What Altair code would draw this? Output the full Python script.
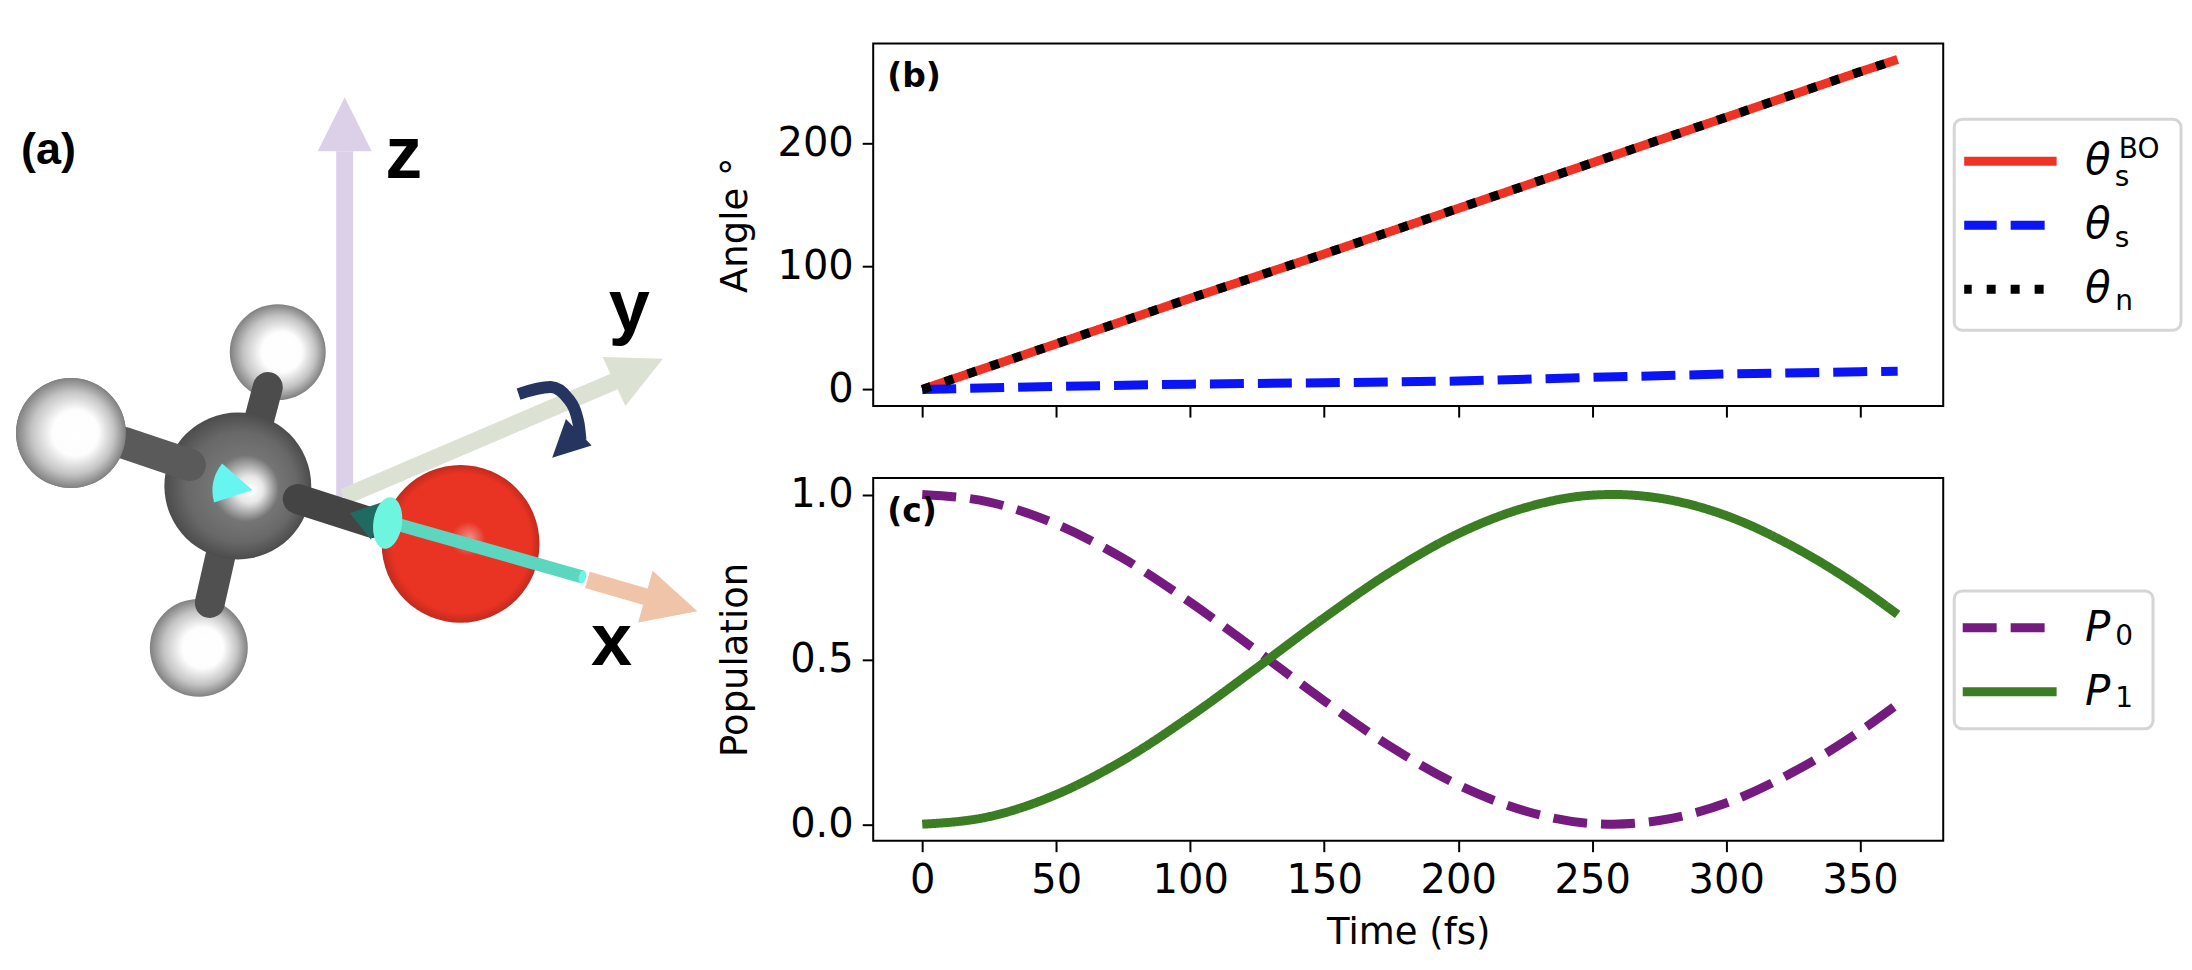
import altair as alt
import pandas as pd

# panel (b)
angle_time = [0, 50, 100, 150, 200, 250, 300, 350, 364]
theta_bo = [0, 37, 74, 110, 147, 184, 221, 258, 268]
theta_s = [0, 2.5, 4.3, 5.4, 6.8, 9.8, 12.5, 14.4, 14.8]
theta_n = [0, 37, 74, 110, 147, 184, 221, 258, 268]

# panel (c)
pop_time = [0, 25, 50, 75, 100, 125, 150, 175, 200, 225, 250, 258, 275, 300, 325, 350, 364]
p0 = [1.0, 0.977, 0.91, 0.806, 0.673, 0.525, 0.374, 0.234, 0.119, 0.04, 0.002, 0.0, 0.011, 0.064, 0.158, 0.282, 0.364]
p1 = [0.0, 0.023, 0.09, 0.194, 0.327, 0.475, 0.626, 0.766, 0.881, 0.96, 0.998, 1.0, 0.989, 0.936, 0.842, 0.718, 0.636]

# molecule sketch for panel (a), in picture pixels
hydrogen_x = [278, 71, 199]
hydrogen_y = [352, 433, 648]
hydrogen_r = [48, 55, 49]
axis_names = ["z", "y", "x"]
axis_label_x = [404, 630, 612]
axis_label_y = [178, 331, 665]
shafts = {
    "z": ([345, 345], [497, 151], "#DCD0E8"),
    "y": ([344, 618], [497, 380], "#DBE2D3"),
    "x": ([588, 650], [580, 598], "#F0C4A8"),
}
heads = {
    "z": (345, 124, 0, "#DCD0E8"),
    "y": (639, 370, 65, "#DBE2D3"),
    "x": (672, 604, 105.6, "#F0C4A8"),
}
bonds = {
    "left": ([125, 190], [443, 465], "#5a5a5a"),
    "top": ([268, 258], [387, 425], "#4c4c4c"),
    "bottom": ([210, 222], [603, 550], "#505050"),
    "oxygen": ([298, 373], [499, 523], "#444444"),
}
curve_x = [519, 551, 569, 579, 581]
curve_y = [394, 387, 399, 423, 440]
rod_x = [386, 583]
rod_y = [521, 577]

# legend subscripts and frames, in picture pixels
sub_b = ["s", "BO", "s", "n"]
sub_b_x = [2123, 2140, 2123, 2125]
sub_b_y = [186, 158, 247, 310]
sub_c = ["0", "1"]
sub_c_x = [2125, 2125]
sub_c_y = [645, 707]
frame_b = [1955, 2182, 119, 330]
frame_c = [1955, 2154, 591, 729]

FONT = "DejaVu Sans"
ARROW = "M0,-1L1,1L-1,1Z"
WIDE_ARROW = "M0,-1L1.4,1L-1.4,1Z"
CONE = "M0,-1L1,0.75Q0,1.25 -1,0.75Z"
ELLIPSE = "M-0.55,0A0.55,1 0 1,1 0.55,0A0.55,1 0 1,1 -0.55,0Z"

PLOT_W = 1071
PLOT_H = 363
LEFT, TOP_B, TOP_C = 873, 43, 478
A_W = 700
A_H = 660
xa = alt.Scale(domain=[8, 8 + A_W], nice=False, zero=False)
ya = alt.Scale(domain=[TOP_B + A_H, TOP_B], nice=False, zero=False)


def a_enc(chart):
    return chart.encode(
        x=alt.X("x:Q", scale=xa, axis=None),
        y=alt.Y("y:Q", scale=ya, axis=None),
    )


def a_line(xs, ys, color, width, cap="butt", **kw):
    d = pd.DataFrame({"x": xs, "y": ys, "o": range(len(xs))})
    return a_enc(alt.Chart(d).mark_line(color=color, strokeWidth=width, strokeCap=cap, clip=False, **kw)).encode(
        order="o:Q"
    )


def a_head(x, y, angle, color, size, shape=ARROW):
    d = pd.DataFrame({"x": [x], "y": [y]})
    return a_enc(
        alt.Chart(d).mark_point(shape=shape, size=size, angle=angle, filled=True, fill=color, opacity=1, strokeWidth=0)
    )


def sphere(xs, ys, rs, stops, cx=0.55, cy=0.45):
    d = pd.DataFrame({"x": xs, "y": ys, "s": [4 * r * r for r in rs]})
    grad = alt.RadialGradient(gradient="radial", stops=stops, x1=cx, y1=cy, r1=0, x2=0.5, y2=0.5, r2=0.5)
    return a_enc(alt.Chart(d).mark_circle(fill=grad, opacity=1)).encode(
        size=alt.Size("s:Q", scale=None, legend=None)
    )


h_stops = [
    alt.GradientStop(offset=0, color="#ffffff"),
    alt.GradientStop(offset=0.42, color="#fdfdfd"),
    alt.GradientStop(offset=0.75, color="#c4c4c4"),
    alt.GradientStop(offset=1, color="#808080"),
]
c_stops = [
    alt.GradientStop(offset=0, color="#ffffff"),
    alt.GradientStop(offset=0.18, color="#e8e8e8"),
    alt.GradientStop(offset=0.45, color="#757575"),
    alt.GradientStop(offset=0.75, color="#686868"),
    alt.GradientStop(offset=1, color="#4c4c4c"),
]
o_stops = [
    alt.GradientStop(offset=0, color="#F28C86"),
    alt.GradientStop(offset=0.22, color="#E93323"),
    alt.GradientStop(offset=0.88, color="#E93323"),
    alt.GradientStop(offset=1, color="#C02B1E"),
]

layers = []
for k in axis_names:
    sx, sy, col = shafts[k]
    layers.append(a_line(sx, sy, col, 17))
    hx, hy, ang, col = heads[k]
    layers.append(a_head(hx, hy, ang, col, 2916))
layers.append(sphere(hydrogen_x, hydrogen_y, hydrogen_r, h_stops, cx=0.57, cy=0.5))
layers.append(a_line(*bonds["top"][:2], bonds["top"][2], 30, cap="round"))
layers.append(a_line(*bonds["bottom"][:2], bonds["bottom"][2], 30, cap="round"))
layers.append(sphere([238], [486], [73.5], c_stops, cx=0.6, cy=0.53))
layers.append(a_line(*bonds["left"][:2], bonds["left"][2], 32, cap="round"))
layers.append(sphere(hydrogen_x[1:2], hydrogen_y[1:2], hydrogen_r[1:2], h_stops, cx=0.57, cy=0.5))
layers.append(sphere([461], [544], [79], o_stops, cx=0.56, cy=0.46))
layers.append(a_line(*bonds["oxygen"][:2], bonds["oxygen"][2], 30, cap="round"))
layers.append(a_head(363.5, 517, 286.5, "#1F6B62", 784, shape=WIDE_ARROW))
layers.append(a_head(233, 486, 101.6, "#66F5F0", 1600, shape=CONE))
layers.append(a_line(rod_x, rod_y, "#5CD6BE", 13))
layers.append(a_head(388, 523, 8, "#6EF5E0", 2704, shape=ELLIPSE))
layers.append(a_head(583, 577, 12, "#6EF5E0", 170, shape=ELLIPSE))
layers.append(a_line(curve_x, curve_y, "#25355F", 12, interpolate="monotone"))
layers.append(a_head(566, 445, 226, "#25355F", 1369))

label_df = pd.DataFrame({"x": axis_label_x, "y": axis_label_y, "t": axis_names})
layers.append(
    a_enc(alt.Chart(label_df).mark_text(font="Liberation Sans", fontWeight="bold", fontSize=74, align="center", baseline="alphabetic")).encode(
        text="t:N"
    )
)
layers.append(
    a_enc(
        alt.Chart(pd.DataFrame({"x": [21], "y": [164], "t": ["(a)"]})).mark_text(
            font="Liberation Sans", fontWeight="bold", fontSize=45, align="left", baseline="alphabetic"
        )
    ).encode(text="t:N")
)
panel_a = alt.layer(*layers).properties(width=A_W, height=A_H, view=alt.ViewConfig(stroke=None))

# right hand panels
x_scale = alt.Scale(domain=[-18.3, 381], nice=False, zero=False)
x_values = [0, 50, 100, 150, 200, 250, 300, 350]


def panel_label(text):
    return alt.Chart(pd.DataFrame({"t": [text]})).mark_text(
        font=FONT, fontWeight="bold", fontSize=33, align="left", baseline="alphabetic"
    ).encode(x=alt.value(14), y=alt.value(44), text="t:N")


def subs(texts, xs, ys, top):
    d = pd.DataFrame({"t": texts, "px": [v - LEFT for v in xs], "py": [v - top for v in ys]})
    return alt.Chart(d).mark_text(
        font=FONT, fontSize=28, align="center", baseline="alphabetic"
    ).encode(
        x=alt.X("px:Q", scale=None),
        y=alt.Y("py:Q", scale=None),
        text="t:N",
    )


def frame(box, top):
    x0, x1, y0, y1 = box
    return alt.Chart(pd.DataFrame({"k": [0]})).mark_rect(
        fillOpacity=0, stroke="#d5d5d5", strokeWidth=3, cornerRadius=8
    ).encode(
        x=alt.value(x0 - LEFT),
        x2=alt.value(x1 - LEFT),
        y=alt.value(y0 - top),
        y2=alt.value(y1 - top),
    )


def legend_for(x, y, pad, offset, label):
    return alt.Legend(
        title=None,
        orient="none",
        legendX=x,
        legendY=y,
        padding=pad,
        symbolOffset=offset,
        labelExpr=label,
        labelFontStyle="italic",
    )


names_b = ["bo", "s", "n"]
angle_df = pd.DataFrame(
    {
        "time": angle_time * 3,
        "value": theta_bo + theta_s + theta_n,
        "series": ["bo"] * len(angle_time) + ["s"] * len(angle_time) + ["n"] * len(angle_time),
        "rank": [0] * len(angle_time) + [1] * len(angle_time) + [2] * len(angle_time),
    }
)
lines_b = alt.Chart(angle_df).mark_line(strokeWidth=9, strokeCap="butt").encode(
    x=alt.X(
        "time:Q",
        scale=x_scale,
        axis=alt.Axis(values=x_values, labels=False, title=None, ticks=True),
    ),
    y=alt.Y(
        "value:Q",
        scale=alt.Scale(domain=[-13.5, 281], nice=False, zero=False),
        axis=alt.Axis(values=[0, 100, 200], title="Angle °", titleX=-119),
    ),
    color=alt.Color(
        "series:N",
        scale=alt.Scale(domain=names_b, range=["#EE3224", "#0A14F5", "#000000"]),
        legend=legend_for(1082, 76, 10, -6, "'θ'"),
    ),
    strokeDash=alt.StrokeDash(
        "series:N",
        scale=alt.Scale(domain=names_b, range=[[1, 0], [34, 14], [9, 15]]),
        legend=legend_for(1082, 76, 10, -6, "'θ'"),
    ),
    order="rank:Q",
)
panel_b = alt.layer(
    lines_b, panel_label("(b)"), subs(sub_b, sub_b_x, sub_b_y, TOP_B), frame(frame_b, TOP_B)
).properties(width=PLOT_W, height=PLOT_H)

names_c = ["p0", "p1"]
pop_df = pd.DataFrame(
    {
        "time": pop_time * 2,
        "value": p0 + p1,
        "series": ["p0"] * len(pop_time) + ["p1"] * len(pop_time),
    }
)
lines_c = alt.Chart(pop_df).mark_line(strokeWidth=9, strokeCap="butt", interpolate="monotone").encode(
    x=alt.X(
        "time:Q",
        scale=x_scale,
        axis=alt.Axis(values=x_values, title="Time (fs)", titlePadding=14),
    ),
    y=alt.Y(
        "value:Q",
        scale=alt.Scale(domain=[-0.05, 1.05], nice=False, zero=False),
        axis=alt.Axis(values=[0, 0.5, 1], format=".1f", title="Population", titleX=-119),
    ),
    color=alt.Color(
        "series:N",
        scale=alt.Scale(domain=names_c, range=["#751A7E", "#3A7D22"]),
        legend=legend_for(1082, 113, 5, -1, "'P'"),
    ),
    strokeDash=alt.StrokeDash(
        "series:N",
        scale=alt.Scale(domain=names_c, range=[[34, 14], [1, 0]]),
        legend=legend_for(1082, 113, 5, -1, "'P'"),
    ),
)
panel_c = alt.layer(
    lines_c, panel_label("(c)"), subs(sub_c, sub_c_x, sub_c_y, TOP_C), frame(frame_c, TOP_C)
).properties(width=PLOT_W, height=PLOT_H)

right = alt.vconcat(panel_b, panel_c, spacing=54).resolve_scale(color="independent", strokeDash="independent")

chart = (
    alt.hconcat(panel_a, right, spacing=8)
    .properties(padding={"left": 0, "top": 32, "right": 0, "bottom": 0})
    .configure_view(stroke="black", strokeWidth=2)
    .configure_axis(
        grid=False,
        domain=False,
        labelFont=FONT,
        titleFont=FONT,
        labelFontSize=40,
        titleFontSize=37,
        titleFontWeight="normal",
        labelColor="black",
        titleColor="black",
        tickColor="black",
        tickSize=11,
        tickWidth=2,
        labelPadding=9,
    )
    .configure_legend(
        labelFont=FONT,
        labelFontSize=42,
        labelColor="black",
        symbolType="stroke",
        symbolSize=8836,
        symbolStrokeWidth=9,
        symbolOpacity=1,
        labelOffset=24,
        clipHeight=64,
        rowPadding=0,
    )
)

chart.save("out.html", embed_options={"renderer": "svg", "actions": False})
